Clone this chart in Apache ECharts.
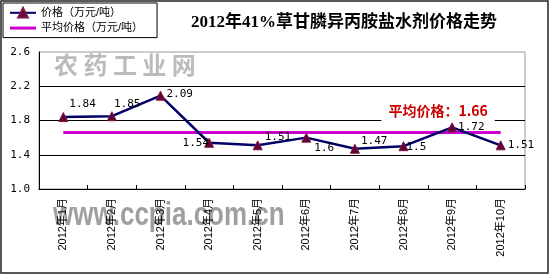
<!DOCTYPE html>
<html><head><meta charset="utf-8">
<script src="https://cdn.jsdelivr.net/npm/echarts@6/dist/echarts.min.js"></script>
<style>html,body{margin:0;padding:0;background:#fff}#c{width:550px;height:275px}</style>
</head><body><div id="c"></div>
<script>
const categories = ['2012年1月','2012年2月','2012年3月','2012年4月','2012年5月','2012年6月','2012年7月','2012年8月','2012年9月','2012年10月'];
const prices = [1.84, 1.85, 2.09, 1.54, 1.51, 1.6, 1.47, 1.5, 1.72, 1.51];
const avgValue = 1.66;
const yTicks = [1.0, 1.4, 1.8, 2.2, 2.6];
const seriesNames = ['价格（万元/吨）', '平均价格（万元/吨）'];
const titleText = '2012年41%草甘膦异丙胺盐水剂价格走势';
const avgLabelText = '平均价格：';
const avgLabelAt = 8; // category index the average note sits over

// label placement styling (not data)
const labelPlace = [
  {position:'right', offset:[0,-13]},
  {position:'right', offset:[-4,-12]},
  {position:'right', offset:[0,-2]},
  {position:'left', offset:[6,0]},
  {position:'right', offset:[1,-8]},
  {position:'right', offset:[2,11]},
  {position:'right', offset:[0,-8]},
  {position:'right', offset:[-3,1]},
  {position:'right', offset:[0,0]},
  {position:'right', offset:[1,0]}
];

const chart = echarts.init(document.getElementById('c'), null, {renderer:'canvas'});
const monoFont = '"DejaVu Sans Mono", monospace';
const cjk = '"Liberation Sans", "Noto Sans CJK SC", sans-serif';

chart.setOption({
  backgroundColor: '#fff',
  animation: false,
  title: {
    text: titleText, left: 339, top: 9, textAlign: 'center',
    textStyle: {fontSize: 17, fontWeight: 'bold', color: '#000', fontFamily: '"Liberation Serif", "Noto Sans CJK SC", serif'}
  },
  legend: {
    left: 3, top: 3, orient: 'vertical',
    borderColor: '#000', borderWidth: 1,
    padding: [4, 14, 4, 6], itemGap: 4, itemWidth: 26, itemHeight: 12,
    textStyle: {fontSize: 11, color: '#000', fontFamily: cjk},
    data: [
      {name: seriesNames[0]},
      {name: seriesNames[1], icon: 'path://M0,0H26V3H0Z', itemStyle: {color: '#CC00CC'}}
    ]
  },
  graphic: [
    {type:'text', left: 54, top: 53, z: -10, silent: true,
     style: {text: '农 药 工 业 网', fontSize: 24, fontFamily: '"Noto Sans CJK SC", serif', fontWeight: 'bold', fill: 'rgba(150,150,150,0.65)'}},
    {type:'text', left: 53, top: 199, z: -10, silent: true, scaleY: 1.3,
     style: {text: 'www.ccpia.com.cn', fontSize: 26, fontFamily: '"Liberation Sans", Arial, sans-serif', fontWeight: 'bold', fill: 'rgba(135,135,135,0.8)'}},
    {type:'rect', silent: true, z: 100,
     shape: {x: 1, y: 1, width: 547, height: 272},
     style: {fill: 'none', stroke: '#222', lineWidth: 1.5}}
  ],
  grid: {left: 39, right: 25, top: 52, bottom: 86, show: true, borderColor: '#9a9a9a', borderWidth: 1, backgroundColor: 'transparent'},
  xAxis: {
    type: 'category', data: categories, boundaryGap: true,
    axisLine: {lineStyle: {color: '#000', width: 1}},
    axisTick: {show: true, inside: true, length: 4, alignWithLabel: false, lineStyle: {color: '#000'}},
    axisLabel: {rotate: 90, margin: 9, fontSize: 11, color: '#000', fontFamily: cjk, interval: 0}
  },
  yAxis: {
    type: 'value', min: yTicks[0], max: yTicks[yTicks.length-1],
    axisLine: {show: true, lineStyle: {color: '#000', width: 1}},
    axisTick: {show: false, customValues: yTicks.slice(1, -1)},
    axisLabel: {customValues: yTicks, margin: 9, fontSize: 11, color: '#000', fontFamily: monoFont,
      formatter: v => v.toFixed(1)},
    splitLine: {show: true, lineStyle: {color: '#000', width: 1}}
  },
  series: [
    {
      name: seriesNames[0], type: 'line', z: 5,
      data: prices.map((v, i) => ({value: v, label: {position: labelPlace[i].position, offset: labelPlace[i].offset}})),
      symbol: 'triangle', symbolSize: 9,
      lineStyle: {color: '#000066', width: 2.5},
      itemStyle: {color: '#660033', borderColor: '#7a1848', borderWidth: 1},
      label: {show: true, distance: 1, fontSize: 11, color: '#000', fontFamily: monoFont,
        formatter: p => String(p.value)}
    },
    {
      name: seriesNames[1], type: 'line', z: 4,
      data: categories.map(() => avgValue),
      symbol: 'none', showSymbol: false,
      lineStyle: {color: '#CC00CC', width: 3},
      itemStyle: {color: '#CC00CC'},
      markPoint: {
        symbol: 'circle', symbolSize: 0, silent: true,
        data: [{coord: [avgLabelAt, avgValue], value: avgValue}],
        label: {show: true, position: 'inside', offset: [-14, -22],
          formatter: () => avgLabelText + avgValue.toFixed(2),
          fontSize: 14, fontWeight: 'bold', color: '#CC0000', fontFamily: '"Noto Sans CJK SC", "Liberation Sans", sans-serif',
          backgroundColor: '#fff', padding: [8, 7, 6, 7]}
      }
    }
  ]
});
</script></body></html>
